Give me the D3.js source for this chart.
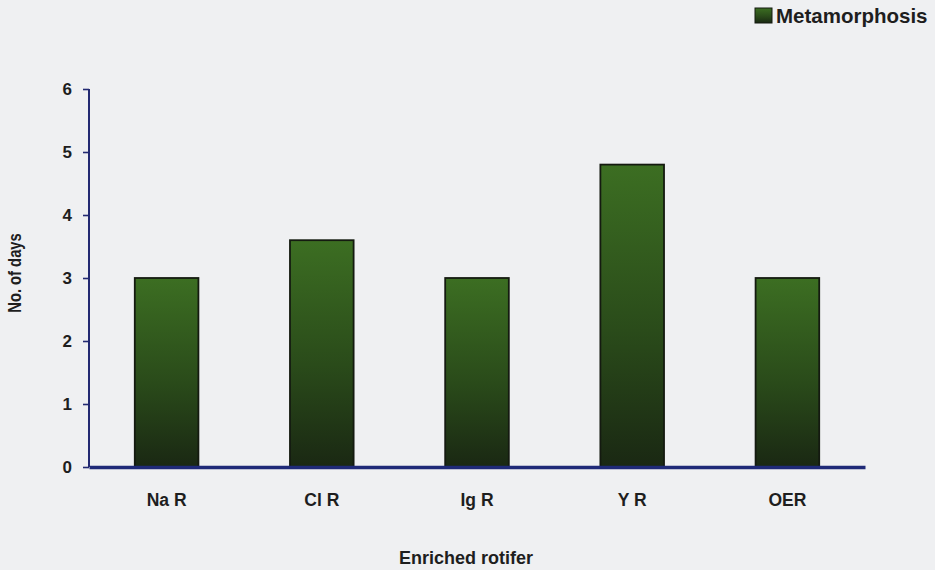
<!DOCTYPE html>
<html>
<head>
<meta charset="utf-8">
<script src="https://cdn.jsdelivr.net/npm/d3@7"></script>
<style>
  html, body { margin: 0; padding: 0; background: #eff0f2; }
  svg { display: block; }
</style>
</head>
<body>
<div id="chart"></div>
<script>
const categories = ["Na R", "Cl R", "Ig R", "Y R", "OER"];
const metamorphosis = [3.0, 3.6, 3.0, 4.8, 3.0];
const yTicks = [0, 1, 2, 3, 4, 5, 6];
const seriesName = "Metamorphosis";
const xTitle = "Enriched rotifer";
const yTitle = "No. of days";

const W = 935, H = 570;
const svg = d3.select("#chart").append("svg").attr("width", W).attr("height", H);

const defs = svg.append("defs");
const grad = defs.append("linearGradient").attr("id", "barGrad")
  .attr("x1", 0).attr("y1", 0).attr("x2", 0).attr("y2", 1);
grad.append("stop").attr("offset", "0%").attr("stop-color", "#3c6e22");
grad.append("stop").attr("offset", "55%").attr("stop-color", "#2a4b1a");
grad.append("stop").attr("offset", "100%").attr("stop-color", "#1a2813");

const plotLeft = 89, plotRight = 865, plotTop = 89, plotBottom = 467;

const x = d3.scaleBand().domain(categories).range([plotLeft, plotRight])
  .paddingInner(0.59).paddingOuter(0.295);
const y = d3.scaleLinear().domain([0, 6]).range([plotBottom, plotTop]);

const font = "'Liberation Sans', Arial, sans-serif";
const txt = "#1e1e1e";

// bars
svg.append("g").selectAll("rect").data(categories).join("rect")
  .attr("x", d => x(d))
  .attr("y", (d, i) => y(metamorphosis[i]))
  .attr("width", x.bandwidth())
  .attr("height", (d, i) => y(0) - y(metamorphosis[i]))
  .attr("fill", "url(#barGrad)")
  .attr("stroke", "#141a10")
  .attr("stroke-width", 1.8);

// y axis
const yAxis = svg.append("g").attr("transform", `translate(${plotLeft},0)`)
  .call(d3.axisLeft(y).tickValues(yTicks).tickSize(6).tickPadding(11).tickFormat(d3.format("d")));
yAxis.select(".domain").attr("stroke", "#232a72").attr("stroke-width", 2)
  .attr("d", `M0,${plotTop}V${plotBottom}`);
yAxis.selectAll(".tick line").attr("stroke", "#232a72").attr("stroke-width", 1.6);
yAxis.selectAll(".tick text").attr("font-family", font).attr("font-weight", "bold")
  .attr("font-size", 17).attr("fill", txt);

// x axis
const xAxis = svg.append("g").attr("transform", `translate(0,${plotBottom})`)
  .call(d3.axisBottom(x).tickSize(0).tickPadding(27));
xAxis.select(".domain").attr("stroke", "#1f2a78").attr("stroke-width", 3.4);
xAxis.selectAll(".tick text").attr("font-family", font).attr("font-weight", "bold")
  .attr("font-size", 17.5).attr("fill", txt);

// axis titles
svg.append("text").attr("x", 466).attr("y", 564)
  .attr("text-anchor", "middle").attr("font-family", font).attr("font-weight", "bold")
  .attr("font-size", 18).attr("fill", txt).text(xTitle);
svg.append("text").attr("transform", `translate(21,273) rotate(-90) scale(0.82,1)`)
  .attr("text-anchor", "middle").attr("font-family", font).attr("font-weight", "bold")
  .attr("font-size", 18).attr("fill", txt).text(yTitle);

// legend
const lg = svg.append("g").attr("transform", "translate(755,8)");
lg.append("rect").attr("width", 17).attr("height", 15).attr("fill", "url(#barGrad)")
  .attr("stroke", "#141a10").attr("stroke-width", 1);
lg.append("text").attr("x", 21).attr("y", 15).attr("font-family", font)
  .attr("font-weight", "bold").attr("font-size", 20.5).attr("fill", txt).text(seriesName);
</script>
</body>
</html>
